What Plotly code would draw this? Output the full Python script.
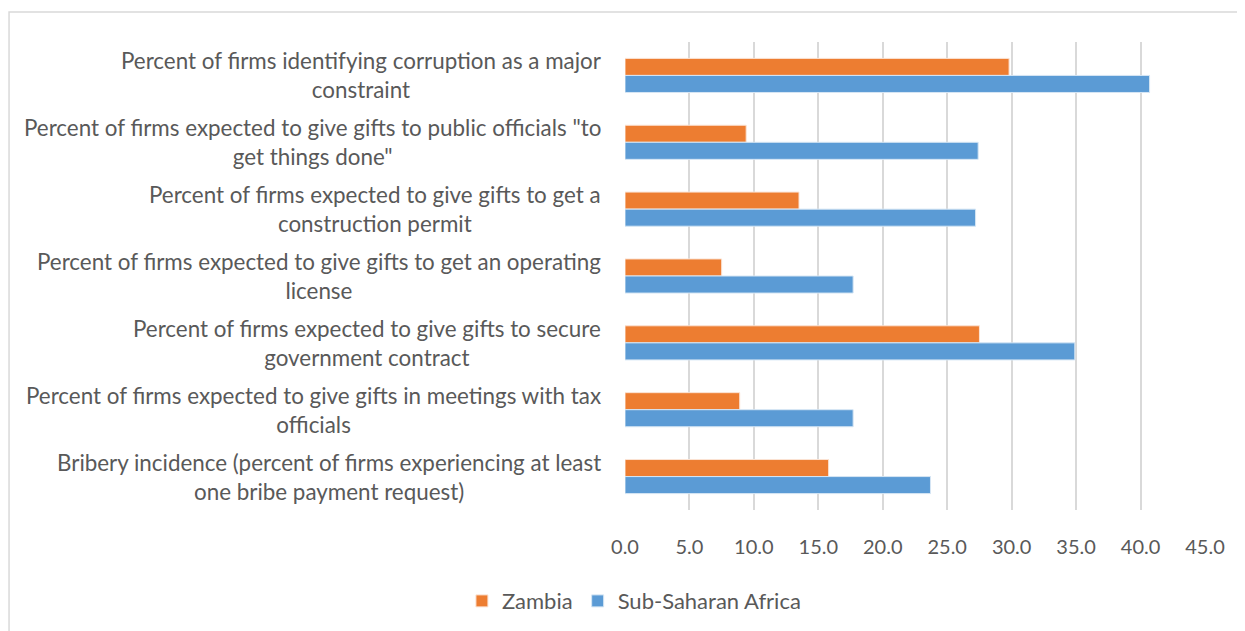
import plotly.graph_objects as go

categories = [
    'Percent of firms identifying corruption as a major<br>constraint',
    'Percent of firms expected to give gifts to public officials "to<br>get things done"',
    'Percent of firms expected to give gifts to get a<br>construction permit',
    'Percent of firms expected to give gifts to get an operating<br>license',
    'Percent of firms expected to give gifts to secure<br>government contract',
    'Percent of firms expected to give gifts in meetings with tax<br>officials',
    'Bribery incidence (percent of firms experiencing at least<br>one bribe payment request)',
]
zambia = [29.8, 9.4, 13.5, 7.5, 27.5, 8.9, 15.8]
ssa = [40.7, 27.4, 27.2, 17.7, 34.9, 17.7, 23.7]

font_name = "Lato"
grey = "#595959"

fig = go.Figure()
fig.add_trace(go.Bar(y=categories, x=zambia, orientation='h', name='Zambia',
                     marker=dict(color='#ED7D31', line=dict(color='#fbe3d4', width=1))))
fig.add_trace(go.Bar(y=categories, x=ssa, orientation='h', name='Sub-Saharan Africa',
                     marker=dict(color='#5B9BD5', line=dict(color='#d6e6f4', width=1))))

# category labels as annotations so the two lines are centred
for c in categories:
    fig.add_annotation(x=0, y=c, xref='paper', yref='y', text=c, showarrow=False,
                       xanchor='right', yanchor='middle', align='center', xshift=-22,
                       font=dict(family=font_name, size=22.4, color=grey))

# outer chart border (page body has an 8px margin, so figure is drawn 8px in)
fig.add_shape(type='rect', xref='paper', yref='paper', x0=-1.062, x1=1.08, y0=-0.3, y1=1.064,
              line=dict(color='#d9d9d9', width=1.5), fillcolor='rgba(0,0,0,0)', layer='below')

fig.update_layout(
    width=1237, height=623,
    margin=dict(l=617, r=40, t=34, b=121),
    paper_bgcolor='white', plot_bgcolor='white',
    barmode='group', bargap=0.49, bargroupgap=0,
    font=dict(family=font_name, size=19, color=grey),
    xaxis=dict(range=[0, 45], dtick=5, tickformat='.1f', showgrid=True, gridcolor='#d9d9d9',
               gridwidth=1.5, zeroline=False, showline=False, ticks='', ticklen=0,
               ticklabelstandoff=23, tickfont=dict(size=20, color=grey)),
    yaxis=dict(autorange='reversed', showticklabels=False, showgrid=False, zeroline=False,
               showline=False, ticks=''),
    legend=dict(orientation='h', xref='container', yref='container', x=0.506, y=0.048,
                xanchor='center', yanchor='middle', font=dict(size=22, color=grey),
                traceorder='normal', itemwidth=30),
    showlegend=True,
)

fig.write_html("out.html")
